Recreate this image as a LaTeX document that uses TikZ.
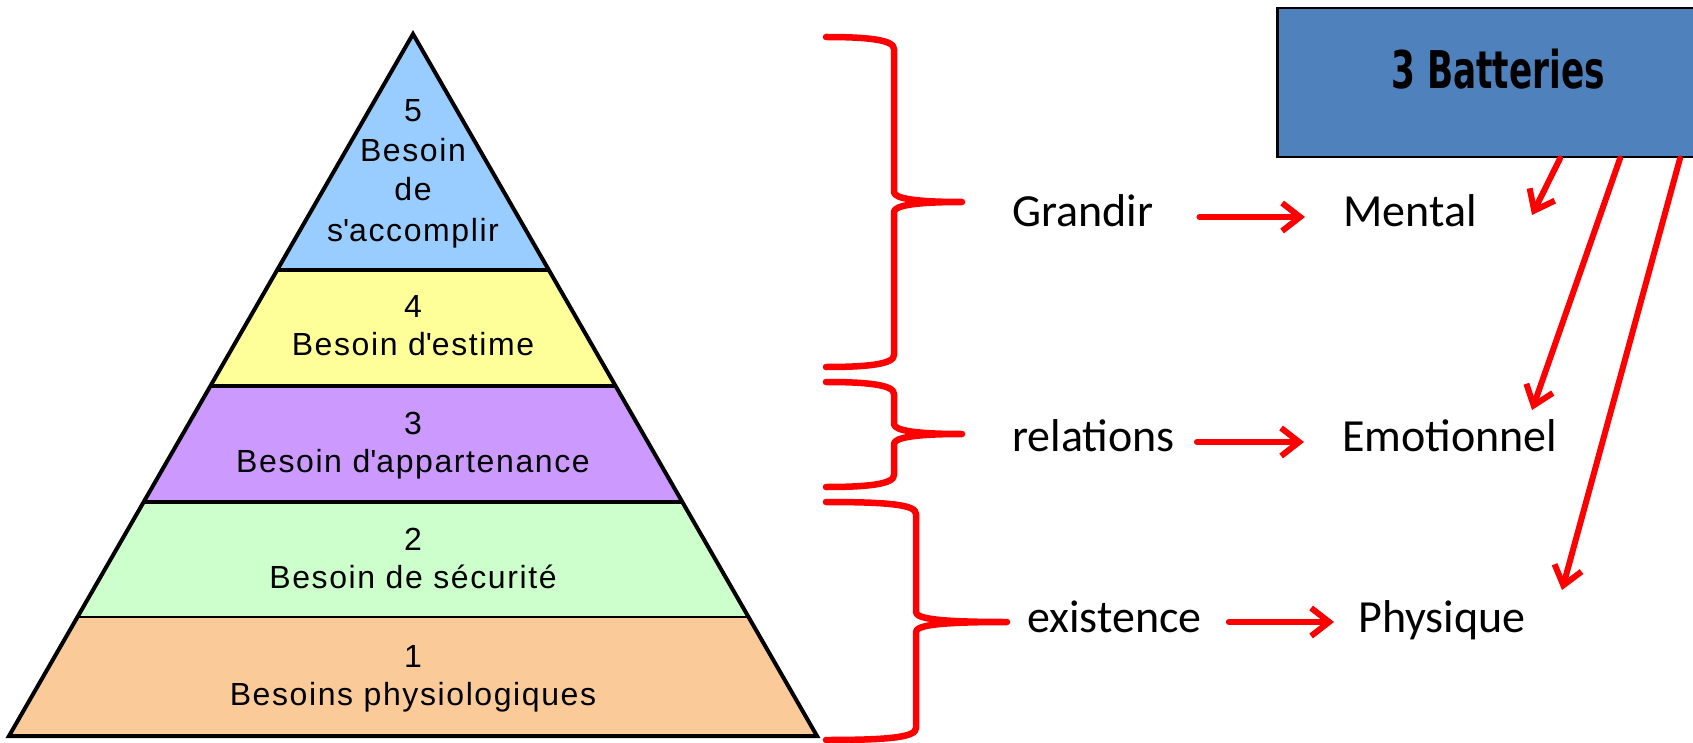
\documentclass[tikz,border=0pt]{standalone}
\usepackage{graphicx}
\usepackage{fontspec}
\setmainfont{Liberation Sans}
\newfontfamily\pyrfont{Liberation Sans}[LetterSpace=5]
\newfontfamily\calfont{Carlito}
\newfontfamily\battfont{DejaVu Sans}
\usetikzlibrary{arrows.meta,calc}
\definecolor{lvfive}{HTML}{99CCFF}
\definecolor{lvfour}{HTML}{FFFF99}
\definecolor{lvthree}{HTML}{CC99FF}
\definecolor{lvtwo}{HTML}{CCFFCC}
\definecolor{lvone}{HTML}{FACB99}
\definecolor{battblue}{HTML}{4F81BD}
\newcommand\mybrace[6]{%
  \draw[bracestyle] (#1,#4) .. controls (#2-25,#4) and (#2,#4+3) .. (#2,#4+12)
    -- (#2,#5-10) .. controls (#2,#5-3) and (#2+25,#5) .. (#3,#5)
    .. controls (#2+25,#5) and (#2,#5+3) .. (#2,#5+10)
    -- (#2,#6-12) .. controls (#2,#6-3) and (#2-25,#6) .. (#1,#6);}
\begin{document}
\begin{tikzpicture}[x=1pt,y=-1pt,
  pyrtxt/.style={inner sep=0pt, anchor=base, text=black, font=\pyrfont\fontsize{32}{38}\selectfont},
  sidetxt/.style={inner sep=0pt, anchor=base west, text=black, font=\calfont\fontsize{46}{55}\selectfont},
  redarrow/.style={draw=red, line width=6pt, line cap=round, line join=round, -{Straight Barb[length=18pt,width=28pt]}},
  bracestyle/.style={draw=red, line width=6.5pt, line cap=round, line join=round},
  levelline/.style={draw=black, line width=3.5pt}]
\useasboundingbox (0,0) rectangle (1693,743);
\fill[white] (0,0) rectangle (1693,743);
% pyramid
\coordinate (A) at (413,34);
\coordinate (BL) at (9,736);
\coordinate (BR) at (817,736);
\coordinate (L1) at ($(A)!0.3362!(BL)$);
\coordinate (R1) at ($(A)!0.3362!(BR)$);
\coordinate (L2) at ($(A)!0.5014!(BL)$);
\coordinate (R2) at ($(A)!0.5014!(BR)$);
\coordinate (L3) at ($(A)!0.6667!(BL)$);
\coordinate (R3) at ($(A)!0.6667!(BR)$);
\coordinate (L4) at ($(A)!0.8305!(BL)$);
\coordinate (R4) at ($(A)!0.8305!(BR)$);
\fill[lvfive] (A) -- (L1) -- (R1) -- cycle;
\fill[lvfour] (L1) -- (L2) -- (R2) -- (R1) -- cycle;
\fill[lvthree] (L2) -- (L3) -- (R3) -- (R2) -- cycle;
\fill[lvtwo] (L3) -- (L4) -- (R4) -- (R3) -- cycle;
\fill[lvone] (L4) -- (BL) -- (BR) -- (R4) -- cycle;
\draw[levelline] (L1) -- (R1);
\draw[levelline] (L2) -- (R2);
\draw[levelline] (L3) -- (R3);
\draw[levelline, line width=2.5pt] (L4) -- (R4);
\draw[levelline, line width=4pt, line join=miter] (A) -- (BL) -- (BR) -- cycle;
% pyramid texts
\node[pyrtxt] (n5) at (413,122) {5};
\node[pyrtxt] (n5a) at (413,162) {Besoin};
\node[pyrtxt] (n5b) at (413,201) {de};
\node[pyrtxt] (n5c) at (413,242) {s{\textquotesingle}accomplir};
\node[pyrtxt] (n4) at (413,317) {4};
\node[pyrtxt] (n4a) at (413,355) {Besoin d{\textquotesingle}estime};
\node[pyrtxt] (n3) at (413,434) {3};
\node[pyrtxt] (n3a) at (413,472) {Besoin d{\textquotesingle}appartenance};
\node[pyrtxt] (n2) at (413,550) {2};
\node[pyrtxt] (n2a) at (413,588) {Besoin de sécurité};
\node[pyrtxt] (n1) at (413,667) {1};
\node[pyrtxt] (n1a) at (413,705) {Besoins physiologiques};
% braces
\mybrace{826}{894}{962}{37}{202}{367}
\mybrace{826}{894}{962}{382}{434}{487}
\mybrace{826}{916}{1007}{502}{622}{740}
% side texts
\node[sidetxt] (grandir) at (1012,227) {Grandir};
\node[sidetxt] (mental) at (1343,227) {Mental};
\node[sidetxt] (relations) at (1012,451) {relations};
\node[sidetxt] (emo) at (1342,451) {Emotionnel};
\node[sidetxt] (exist) at (1027,632) {existence};
\node[sidetxt] (phys) at (1358,632) {Physique};
\draw[redarrow] ([xshift=46pt,yshift=10pt]grandir.base east) -- ([xshift=-38pt,yshift=10pt]mental.base west);
\draw[redarrow] ([xshift=22pt,yshift=9pt]relations.base east) -- ([xshift=-38pt,yshift=9pt]emo.base west);
\draw[redarrow] ([xshift=27pt,yshift=10pt]exist.base east) -- ([xshift=-24pt,yshift=10pt]phys.base west);
% batteries box
\node[draw=black, line width=2.5pt, fill=battblue, minimum width=440pt, minimum height=149pt, anchor=north west, inner sep=0pt] (box) at (1276,7) {};
\node[anchor=base, inner sep=0pt, text=black, font=\battfont\bfseries\fontsize{52}{60}\selectfont] (batt) at (1498,89) {\scalebox{0.66}[1]{3 Batteries}};
\coordinate (t1) at (1532,215);
\coordinate (t2) at (1532,410);
\coordinate (t3) at (1562,590);
\draw[redarrow] ([xshift=284pt]box.south west) -- (t1);
\draw[redarrow] ([xshift=344pt]box.south west) -- (t2);
\draw[redarrow] ([xshift=404pt]box.south west) -- (t3);
\end{tikzpicture}
\end{document}
